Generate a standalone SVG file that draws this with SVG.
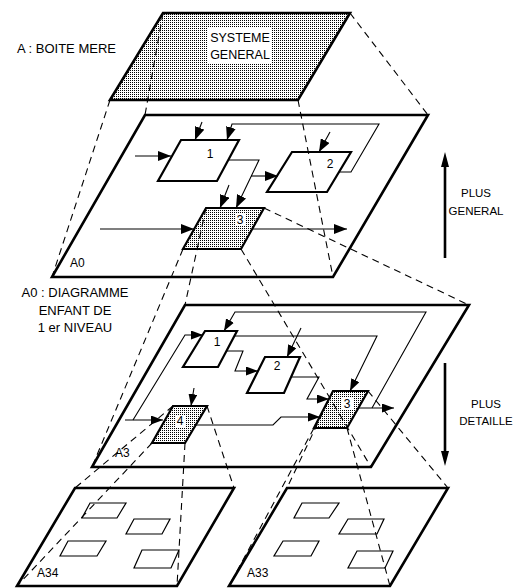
<svg xmlns="http://www.w3.org/2000/svg" width="527" height="588" viewBox="0 0 527 588">
<style>
.plane{fill:#fff;stroke:#000;stroke-width:2.6;stroke-linejoin:miter}
.box{fill:#fff;stroke:#000;stroke-width:2.2}
.sbox{fill:none;stroke:#000;stroke-width:1.2}
.shade{fill:url(#dots)}
.con{fill:none;stroke:#000;stroke-width:1.1}
.dash{fill:none;stroke:#000;stroke-width:1.1;stroke-dasharray:7 5}
.t{font-family:"Liberation Sans",Arial,sans-serif;font-size:13px;fill:#000}
.d{font-family:"Liberation Sans",Arial,sans-serif;font-size:12px;fill:#000;text-anchor:middle}
.s{font-family:"Liberation Sans",Arial,sans-serif;font-size:11.5px;fill:#000;text-anchor:middle}
.m{text-anchor:middle}
</style>
<defs>
<pattern id="dots" width="2" height="2" patternUnits="userSpaceOnUse">
<rect width="2" height="2" fill="#fff"/>
<rect width="1" height="1" fill="#000" shape-rendering="crispEdges"/>
</pattern>
<marker id="ah" markerWidth="13" markerHeight="10" refX="13" refY="5" orient="auto" markerUnits="userSpaceOnUse">
<path d="M0,0 L13,5 L0,10 z" fill="#000"/>
</marker>
<marker id="ah2" markerWidth="12" markerHeight="9" refX="12" refY="4.5" orient="auto" markerUnits="userSpaceOnUse">
<path d="M0,0 L12,4.5 L0,9 z" fill="#000"/>
</marker>
</defs>

<g id="A">
<polygon class="plane shade" points="163,13 350,13 298,100 110,100"/>
<rect x="208" y="28" width="64" height="35" fill="#fff"/>
<text class="t m" x="240" y="42" style="font-size:12.5px">SYSTEME</text>
<text class="t m" x="240" y="59" style="font-size:12.5px">GENERAL</text>
</g>
<g id="label-A"><text class="t" x="17" y="53">A : BOITE MERE</text></g>

<g id="A0">
<polygon class="plane" points="145,115 428,115 333,277 52,277"/>
<text class="t" x="70" y="267" style="font-size:12px">A0</text>
</g>
<g id="A0-1"><polygon class="box" points="181,140 239,140 217,181 158,181"/><text class="d" x="210" y="158">1</text></g>
<g id="A0-2"><polygon class="box" points="292,152 351,152 327,192 267,192"/><text class="d" x="330" y="168">2</text></g>
<g id="A0-3"><polygon class="box shade" points="206,208 264,208 241,249 183,249"/><rect x="235" y="214" width="10" height="12" fill="#fff"/><text class="d" x="240" y="224">3</text></g>

<g id="label-A0">
<text class="t m" x="75" y="297">A0 : DIAGRAMME</text>
<text class="t m" x="75" y="315">ENFANT DE</text>
<text class="t m" x="75" y="332">1 er NIVEAU</text>
</g>

<g id="A3">
<polygon class="plane" points="185,305 469,305 371,467 92,467"/>
<text class="t" x="115" y="457" style="font-size:12px">A3</text>
</g>
<g id="A3-1"><polygon class="box" points="205,331 237,331 218,367 183,367"/><text class="d" x="217" y="346">1</text></g>
<g id="A3-2"><polygon class="box" points="265,357 300,357 284,393 247,393"/><text class="d" x="277" y="370">2</text></g>
<g id="A3-3"><polygon class="box shade" points="333,391 368,391 347,428 314,428"/><rect x="342" y="398" width="11" height="12" fill="#fff"/><text class="d" x="347" y="408">3</text></g>
<g id="A3-4"><polygon class="box shade" points="173,406 207,406 185,443 152,443"/><rect x="175" y="415" width="11" height="12" fill="#fff"/><text class="d" x="180" y="425">4</text></g>

<g id="A34">
<polygon class="plane" points="75,488 234,488 177,586 17,586"/>
<polygon class="sbox" points="90,503 126,503 117,518 82,518"/>
<polygon class="sbox" points="134,519 170,519 162,534 126,534"/>
<polygon class="sbox" points="68,541 106,541 97,556 60,556"/>
<polygon class="sbox" points="142,550 179,550 171,568 134,568"/>
<text class="t" x="37" y="577" style="font-size:12px">A34</text>
</g>
<g id="A33">
<polygon class="plane" points="287,488 448,488 390,586 229,586"/>
<polygon class="sbox" points="302,503 339,503 329,518 294,518"/>
<polygon class="sbox" points="348,519 384,519 377,534 339,534"/>
<polygon class="sbox" points="283,541 319,541 311,556 274,556"/>
<polygon class="sbox" points="357,551 393,551 385,568 348,568"/>
<text class="t" x="247" y="577" style="font-size:12px">A33</text>
</g>

<g id="scale">
<line x1="445" y1="258" x2="445" y2="164" stroke="#000" stroke-width="2.6"/>
<polygon points="445,152 441,167 449,167" fill="#000"/>
<text class="s" x="476" y="197">PLUS</text>
<text class="s" x="476" y="215">GENERAL</text>
<line x1="445" y1="363" x2="445" y2="453" stroke="#000" stroke-width="2.6"/>
<polygon points="445,466 441,451 449,451" fill="#000"/>
<text class="s" x="486" y="408">PLUS</text>
<text class="s" x="486" y="425">DETAILLE</text>
</g>

<g id="connectors">
<path class="con" marker-end="url(#ah)" d="M135,156 L171,156"/>
<path class="con" marker-end="url(#ah)" d="M202,122 L195,140"/>
<path class="con" marker-end="url(#ah)" d="M339,172 L351,172 L379,124 L232,124 L227,140"/>
<path class="con" marker-end="url(#ah)" d="M228,160 L259,160 L236,208"/>
<path class="con" marker-end="url(#ah)" d="M251,176 L278,176"/>
<path class="con" marker-end="url(#ah)" d="M330,132 L319,152"/>
<path class="con" marker-end="url(#ah)" d="M229,185 L220,208"/>
<path class="con" marker-end="url(#ah)" d="M100,229 L194,229"/>
<path class="con" marker-end="url(#ah)" d="M253,229 L347,229"/>
<path class="con" marker-end="url(#ah2)" d="M125,420 L163,420"/>
<path class="con" marker-end="url(#ah2)" d="M133,420 L185,335 L203,335"/>
<path class="con" marker-end="url(#ah2)" d="M194,388 L191,406"/>
<path class="con" marker-end="url(#ah2)" d="M196,425 L273,425 L281,417 L320,417"/>
<path class="con" marker-end="url(#ah2)" d="M234,336 L377,336 L350,391"/>
<path class="con" marker-end="url(#ah2)" d="M226,351 L243,351 L235,371 L258,371"/>
<path class="con" marker-end="url(#ah2)" d="M301,328 L287,357"/>
<path class="con" marker-end="url(#ah2)" d="M291,377 L319,377 L307,399 L329,399"/>
<path class="con" marker-end="url(#ah2)" d="M358,408 L394,408"/>
<path class="con" marker-end="url(#ah2)" d="M372,408 L426,312 L235,312 L224,331"/>
<path class="dash" d="M163,13 L145,115"/>
<path class="dash" d="M350,13 L428,115"/>
<path class="dash" d="M110,100 L52,277"/>
<path class="dash" d="M298,100 L333,277"/>
<path class="dash" d="M206,208 L185,305"/>
<path class="dash" d="M264,208 L469,305"/>
<path class="dash" d="M183,249 L92,467"/>
<path class="dash" d="M241,249 L371,467"/>
<path class="dash" d="M173,406 L75,488"/>
<path class="dash" d="M207,406 L234,488"/>
<path class="dash" d="M152,443 L17,586"/>
<path class="dash" d="M185,443 L177,586"/>
<path class="dash" d="M333,391 L287,488"/>
<path class="dash" d="M368,391 L448,488"/>
<path class="dash" d="M314,428 L229,586"/>
<path class="dash" d="M347,428 L390,586"/>
</g>
</svg>
